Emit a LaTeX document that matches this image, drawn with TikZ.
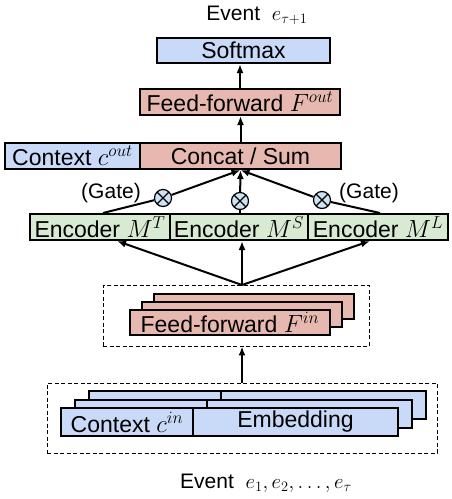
\documentclass[tikz,border=0pt]{standalone}
\usepackage{fontspec}
\setmainfont{Liberation Sans}
\usepackage{tikz}
\usetikzlibrary{arrows.meta,positioning}
\definecolor{BoxBlue}{HTML}{C9DAF8}
\definecolor{BoxRed}{HTML}{E6B8AF}
\definecolor{BoxGreen}{HTML}{D9EAD3}
\definecolor{GateBlue}{HTML}{CFE2F3}
\tikzset{
  blk/.style={draw, line width=2pt, inner sep=0pt, minimum height=26pt, font=\fontsize{23}{27}\selectfont},
  blueblk/.style={blk, fill=BoxBlue},
  redblk/.style={blk, fill=BoxRed},
  greenblk/.style={blk, fill=BoxGreen},
  group/.style={draw, line width=0.9pt, dash pattern=on 4pt off 2.5pt, inner sep=0pt},
  lbl/.style={font=\fontsize{21}{25}\selectfont, inner sep=0pt},
  arr/.style={line width=2pt, -{Latex[length=9pt,width=7pt]}},
  gate/.style={circle, draw, fill=GateBlue, line width=1.2pt, minimum size=17pt, inner sep=0pt,
    path picture={\draw[line width=1.2pt] (path picture bounding box.north west) -- (path picture bounding box.south east)
      (path picture bounding box.north east) -- (path picture bounding box.south west);}}
}
\begin{document}
\begin{tikzpicture}[x=1pt,y=-1pt]
    \useasboundingbox (0,0) rectangle (451,499);

    % output side
    \node[lbl] (evout) at (257,15) {Event \ $e_{\tau+1}$};
    \node[blueblk, minimum width=173pt, minimum height=25pt] (softmax) at (243.5,50.5) {Softmax};
    \node[redblk, minimum width=200pt] (ffout) at (240,102) {Feed-forward $F^{out}$};
    \node[blueblk, minimum width=135pt] (ctxout) at (72.5,156) {Context $c^{out}$};
    \node[redblk, minimum width=201pt] (concat) at (240.5,156) {Concat / Sum};

    % encoders
    \node[greenblk, minimum width=140pt] (encT) at (100,227) {Encoder $M^T$};
    \node[greenblk, minimum width=138pt] (encS) at (239,227) {Encoder $M^S$};
    \node[greenblk, minimum width=140pt] (encL) at (378,227) {Encoder $M^L$};

    % gates
    \node[gate] (gT) at (163,198) {};
    \node[gate] (gS) at (240,201) {};
    \node[gate] (gL) at (322,200) {};
    \node[lbl] (gateT) at (111,193) {(Gate)};
    \node[lbl] (gateL) at (369,193) {(Gate)};

    % input feed-forward (stacked)
    \node[group, minimum width=266pt, minimum height=61pt] (ffbox) at (236,315.5) {};
    \node[redblk, minimum width=200pt, minimum height=25pt] (ffinC) at (254,306.5) {};
    \node[redblk, minimum width=200pt, minimum height=25pt] (ffinB) at (242,314.5) {};
    \node[redblk, minimum width=200pt, minimum height=25pt] (ffin) at (230,322.5) {Feed-forward $F^{in}$};
    \coordinate (fork) at (242,285);

    % input embedding (stacked)
    \node[group, minimum width=390pt, minimum height=70pt] (embbox) at (242,418) {};
    \node[blueblk, minimum width=132pt, minimum height=28pt] (ctxinC) at (155,405) {};
    \node[blueblk, minimum width=205pt, minimum height=28pt] (embC) at (323.5,405) {};
    \node[blueblk, minimum width=132pt, minimum height=28pt] (ctxinB) at (141,413.5) {};
    \node[blueblk, minimum width=205pt, minimum height=28pt] (embB) at (309.5,413.5) {};
    \node[blueblk, minimum width=132pt, minimum height=28pt] (ctxin) at (127,422) {Context $c^{in}$};
    \node[blueblk, minimum width=205pt, minimum height=28pt] (emb) at (295.5,422) {Embedding};
    \node[lbl] (evin) at (266,483) {Event \ $e_1, e_2, \ldots, e_\tau$};

    % connectors
    \draw[arr] (ffout.north) -- (ffout.north |- softmax.south);
    \draw[arr] (concat.north) -- (concat.north |- ffout.south);
    \draw[line width=2pt] ([xshift=3pt]encT.north) -- (gT);
    \draw[line width=2pt] (encS.north -| gS) -- (gS);
    \draw[line width=2pt] ([xshift=2pt]encL.north) -- (gL);
    \draw[arr] (gT) -- (concat.south);
    \draw[arr] (gS) -- (concat.south);
    \draw[arr] (gL) -- (concat.south);
    \draw[arr] (fork) -- ([xshift=17pt]encT.south);
    \draw[arr] (fork) -- (fork |- encS.south);
    \draw[arr] (fork) -- ([xshift=-8pt]encL.south);
    \draw[arr] (embbox.north) -- (embbox.north |- ffbox.south);
\end{tikzpicture}
\end{document}
